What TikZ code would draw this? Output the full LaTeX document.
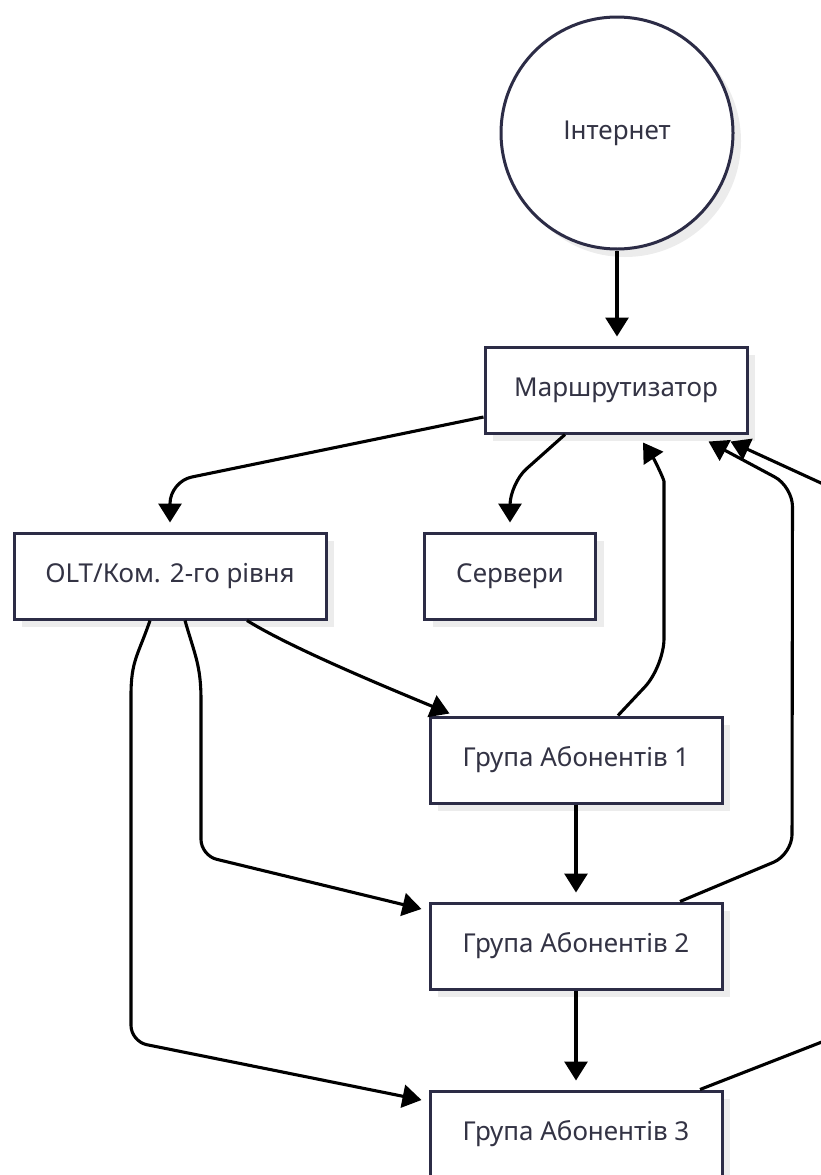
\documentclass[tikz,border=0pt]{standalone}
\usepackage{fontspec}
\setmainfont{Noto Sans}
\usepackage{tikz}
\usetikzlibrary{arrows.meta,calc,shadows}
\definecolor{cE}{RGB}{44,44,70}
\definecolor{cT}{RGB}{51,51,68}
\definecolor{cS}{RGB}{236,236,236}
\tikzset{
  box/.style={draw=cE, line width=3pt, fill=white, text=cT, font=\fontsize{26}{30}\selectfont, minimum height=86pt, inner sep=0pt, drop shadow={shadow xshift=8pt, shadow yshift=-8pt, fill=cS, opacity=1}},
  cir/.style={box, circle, minimum size=232pt},
  arr/.style={-{Triangle[length=19pt,width=23pt]}, line width=3.1pt, black},
  arrs/.style={arr, shorten >=9pt}
}

\begin{document}
\begin{tikzpicture}[x=1pt, y=-1pt]
  \useasboundingbox (0,0) rectangle (821,1175);
  \clip (0,0) rectangle (821,1175);
  \node[cir] (inet) at (617,133) {Інтернет};
  \node[box, minimum width=262pt] (rtr) at (616,390) {Маршрутизатор};
  \node[box, minimum width=312pt] (olt) at (170,576) {OLT/Ком. 2-го рівня};
  \node[box, minimum width=171pt] (srv) at (510,576) {Сервери};
  \node[box, minimum width=292pt] (g1) at (576,760) {Група Абонентів 1};
  \node[box, minimum width=292pt] (g2) at (576,946) {Група Абонентів 2};
  \node[box, minimum width=292pt] (g3) at (576,1134) {Група Абонентів 3};
  \draw[arrs] (inet.south) -- (inet.south |- rtr.north);
  \draw[arr, rounded corners=22pt] ($(rtr.west)+(0,27)$) -- ($(olt.north)+(0,-50)$) -- ($(olt.north)+(0,-9)$);
  \draw[arr, rounded corners=22pt] ($(rtr.south)+(-51,0)$) -- ($(srv.north)+(0,-48)$) -- ($(srv.north)+(0,-9)$);
  \draw[arr] ($(olt.south)+(77,0)$) .. controls +(45,28) and +(-60,-25) .. ($(g1.north west)+(21,-2)$);
  \draw[arr] ($(olt.south)+(15,0)$) .. controls +(10,35) and +(0,-35) .. ($(olt.south)+(31,80)$) [rounded corners=16pt] -- ($(olt.south)+(31,235)$) -- ($(g2.west)+(-7,-37)$);
  \draw[arr] ($(olt.south)+(-20,0)$) .. controls +(-12,35) and +(0,-35) .. ($(olt.south)+(-39,75)$) [rounded corners=16pt] -- ($(olt.south)+(-39,421)$) -- ($(g3.west)+(-7,-34)$);
  \draw[arrs] (g1) -- (g2);
  \draw[arrs] (g2) -- (g3);
  \draw[arr, rounded corners=28pt] ($(g1.north)+(42,0)$) -- ($(g1.north)+(88,-49)$) -- ($(rtr.south)+(48,75)$) .. controls +(0,-30) and +(12,18) .. ($(rtr.south)+(27,8)$);
  \draw[arr, rounded corners=20pt] ($(g2.north)+(104,0)$) -- ($(g2.north)+(216,-47)$) -- ($(rtr.south east)+(44,52)$) -- ($(rtr.south east)+(-40,7)$);
  \draw[arr, rounded corners=20pt] ($(g3.north)+(124,0)$) -- ($(g3.north)+(324,-78)$) -- ($(rtr.south east)+(152,85)$) -- ($(rtr.south east)+(-18,7)$);
\end{tikzpicture}
\end{document}
